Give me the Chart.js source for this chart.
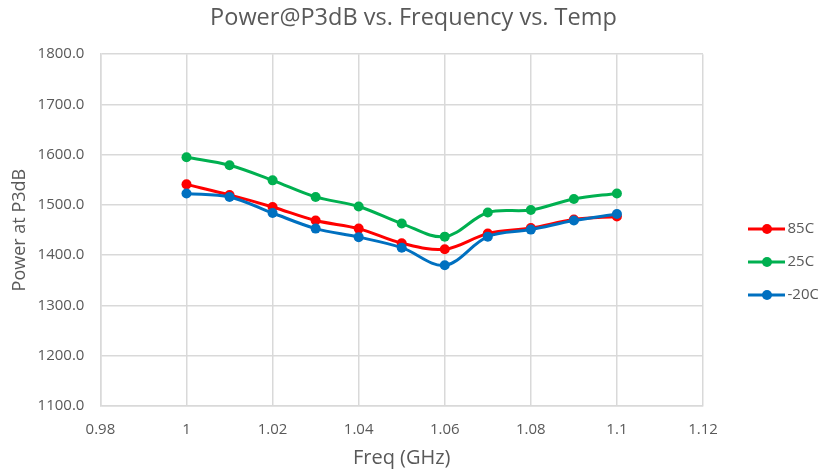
<!DOCTYPE html>
<html>
<head>
<meta charset="utf-8">
<script src="https://cdn.jsdelivr.net/npm/chart.js@4.4.1/dist/chart.umd.min.js"></script>
<style>
  html, body { margin: 0; padding: 0; background: #fff; }
  #wrap { width: 822px; height: 473px; }
</style>
</head>
<body>
<div id="wrap"><canvas id="chart"></canvas></div>
<script>
const freqs = [1.00, 1.01, 1.02, 1.03, 1.04, 1.05, 1.06, 1.07, 1.08, 1.09, 1.10];
const temp85 = [1541, 1520, 1496, 1469, 1453, 1424, 1412, 1443, 1454, 1471, 1477];
const temp25 = [1595, 1579, 1549, 1516, 1497, 1463, 1437, 1485, 1490, 1512, 1523];
const tempM20 = [1523, 1516, 1484, 1453, 1436, 1415, 1380, 1437, 1451, 1469, 1482];
const seriesNames = ['85C', '25C', '-20C'];
const seriesColors = ['#FF0000', '#00B050', '#0070C0'];

const textColor = '#595959';
const gridColor = '#D9D9D9';
const fontFamily = '"Open Sans", Lato, sans-serif';

// legend marker: short line with a dot, drawn on the right part of the image
// (image is centred on the legend box, the left part stays empty)
const markerBox = 59;
function legendMarker(color) {
    const c = document.createElement('canvas');
    c.width = markerBox + 12; c.height = 12;
    const ctx = c.getContext('2d');
    ctx.strokeStyle = color;
    ctx.lineWidth = 3;
    ctx.beginPath();
    ctx.moveTo(33, 6); ctx.lineTo(70, 6);
    ctx.stroke();
    ctx.fillStyle = color;
    ctx.beginPath();
    ctx.arc(52, 6, 5, 0, Math.PI * 2);
    ctx.fill();
    return c;
}

function toPoints(values) {
    return values.map((v, i) => ({ x: freqs[i], y: v }));
}

const allSeries = [temp85, temp25, tempM20];
const datasets = allSeries.map((values, i) => ({
    label: seriesNames[i],
    data: toPoints(values),
    borderColor: seriesColors[i],
    backgroundColor: seriesColors[i],
    borderWidth: 3,
    pointRadius: 5,
    pointHoverRadius: 5,
    pointBorderWidth: 0,
    tension: 0.35,
    order: allSeries.length - i,
    pointStyle: 'circle'
}));

const markers = seriesColors.map(legendMarker);

new Chart(document.getElementById('chart'), {
    type: 'line',
    data: { datasets: datasets },
    options: {
        responsive: true,
        maintainAspectRatio: false,
        animation: false,
        layout: { padding: { left: 9, right: 4, top: 4, bottom: 0 } },
        plugins: {
            title: {
                display: true,
                text: 'Power@P3dB vs. Frequency vs. Temp',
                color: textColor,
                font: { family: fontFamily, size: 23.5, weight: 'normal' },
                padding: { top: 0, bottom: 22 }
            },
            legend: {
                position: 'right',
                align: 'center',
                maxWidth: 115,
                title: {
                    display: true,
                    text: ' ',
                    font: { size: 12, lineHeight: 1 },
                    padding: { top: 0, bottom: 35 }
                },
                labels: {
                    color: textColor,
                    font: { family: fontFamily, size: 15 },
                    usePointStyle: true,
                    pointStyleWidth: markerBox,
                    boxHeight: 12,
                    padding: 18,
                    sort: (a, b) => a.datasetIndex - b.datasetIndex,
                    generateLabels: chart => chart.data.datasets.map((ds, i) => ({
                        text: ds.label,
                        pointStyle: markers[i],
                        fillStyle: ds.borderColor,
                        strokeStyle: ds.borderColor,
                        fontColor: textColor,
                        lineWidth: 0,
                        hidden: false,
                        datasetIndex: i
                    }))
                }
            },
            tooltip: { enabled: false }
        },
        scales: {
            x: {
                type: 'linear',
                min: 0.98,
                max: 1.12,
                ticks: {
                    stepSize: 0.02,
                    color: textColor,
                    padding: 15,
                    font: { family: fontFamily, size: 15 },
                    callback: v => String(Math.round(v * 100) / 100)
                },
                grid: { color: gridColor, lineWidth: 1.5, drawTicks: false },
                border: { color: gridColor, width: 1.5 },
                title: {
                    display: true,
                    text: 'Freq (GHz)',
                    color: textColor,
                    padding: { top: -8, bottom: 3 },
                    font: { family: fontFamily, size: 20 }
                }
            },
            y: {
                min: 1100,
                max: 1800,
                ticks: {
                    stepSize: 100,
                    color: textColor,
                    padding: 16,
                    font: { family: fontFamily, size: 15 },
                    callback: v => v.toFixed(1)
                },
                grid: { color: gridColor, lineWidth: 1.5, drawTicks: false },
                border: { color: gridColor, width: 1.5 },
                title: {
                    display: true,
                    text: 'Power at P3dB',
                    color: textColor,
                    padding: { top: 0, bottom: -9 },
                    font: { family: fontFamily, size: 18 }
                }
            }
        }
    }
});
</script>
</body>
</html>
